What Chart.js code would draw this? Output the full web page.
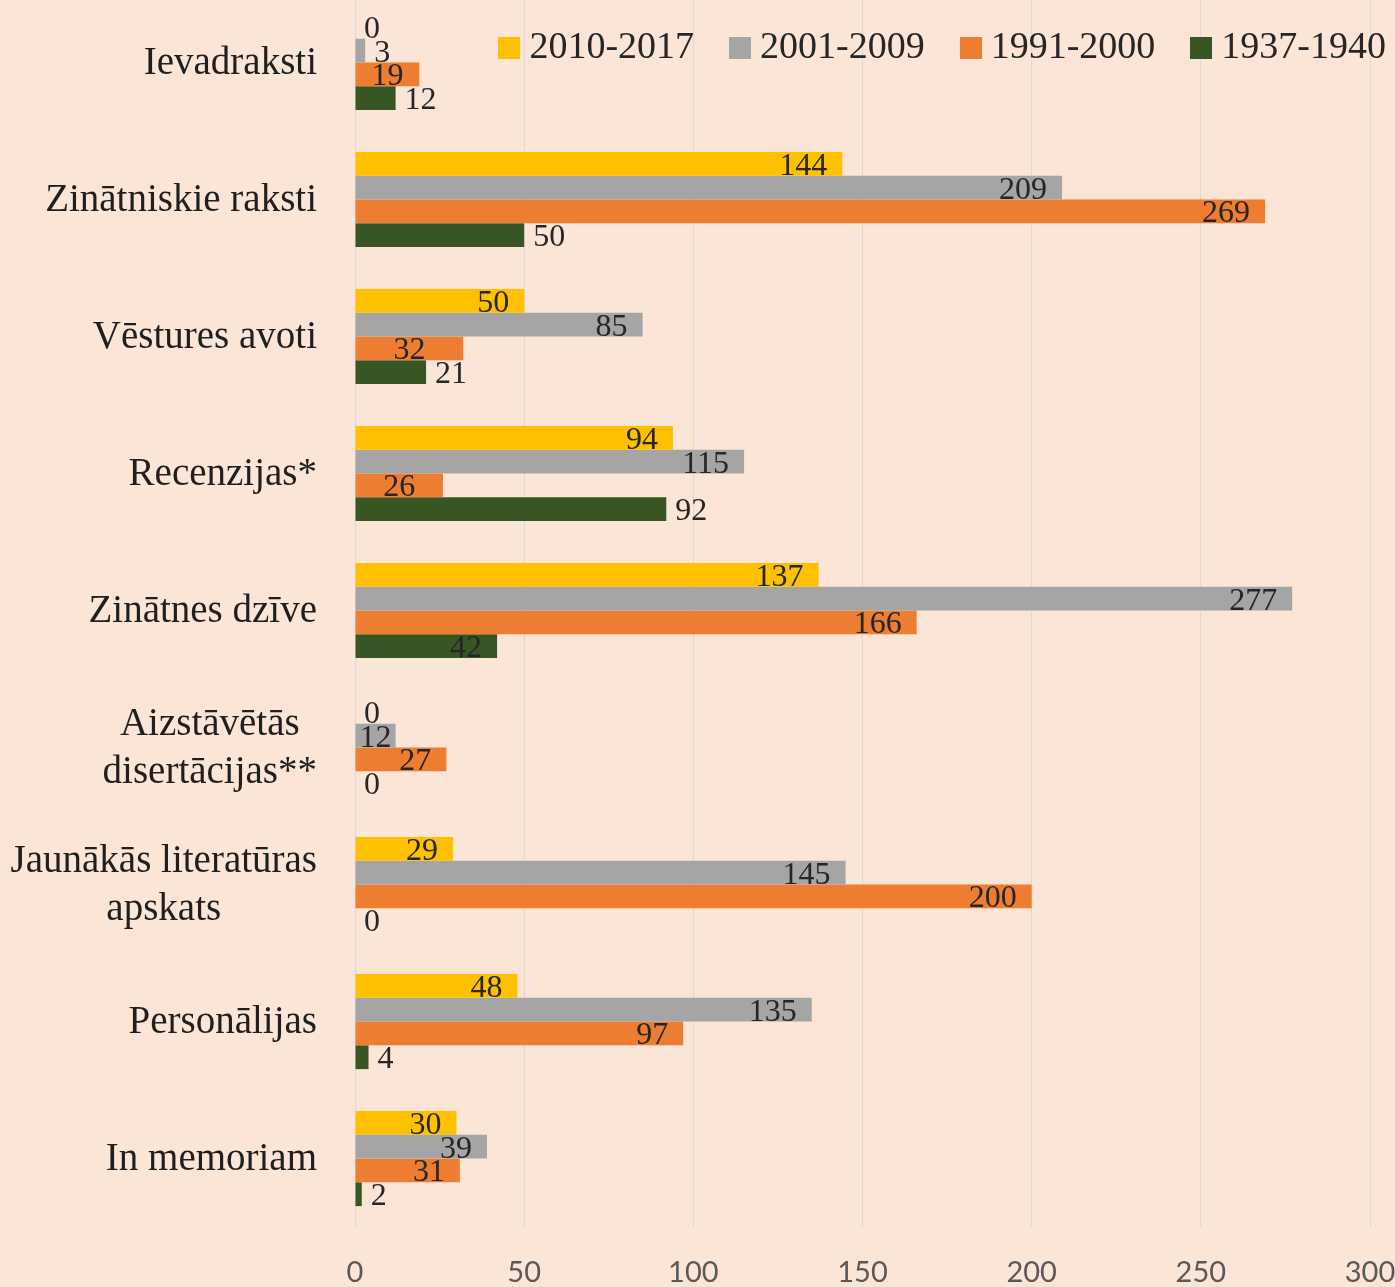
<!DOCTYPE html>
<html>
<head>
<meta charset="utf-8">
<script src="https://cdn.jsdelivr.net/npm/chart.js@4/dist/chart.umd.min.js"></script>
<style>
  html, body { margin:0; padding:0; background:#FBE5D6; }
  #wrap { position:relative; width:1395px; height:1287px; overflow:hidden; background:#FBE5D6; }
  #c { position:absolute; left:0; top:-6px; }
  #legend { position:absolute; top:26px; right:9px; display:flex; gap:35px;
            font-family:"Liberation Serif", serif; font-size:38px; line-height:38px; color:#262626; }
  #legend .item { display:flex; align-items:center; white-space:nowrap; }
  #legend .box { display:inline-block; width:22px; height:22px; margin-right:9px; position:relative; top:3px; }
</style>
</head>
<body>
<div id="wrap">
  <canvas id="c" width="1395" height="1293"></canvas>
  <div id="legend"></div>
</div>
<script>
const categories = [
  ["Ievadraksti"],
  ["Zinātniskie raksti"],
  ["Vēstures avoti"],
  ["Recenzijas*"],
  ["Zinātnes dzīve"],
  ["Aizstāvētās", "disertācijas**"],
  ["Jaunākās literatūras", "apskats"],
  ["Personālijas"],
  ["In memoriam"]
];
const seriesNames = ["2010-2017", "2001-2009", "1991-2000", "1937-1940"];
const s2010_2017 = [0, 144, 50, 94, 137, 0, 29, 48, 30];
const s2001_2009 = [3, 209, 85, 115, 277, 12, 145, 135, 39];
const s1991_2000 = [19, 269, 32, 26, 166, 27, 200, 97, 31];
const s1937_1940 = [12, 50, 21, 92, 42, 0, 0, 4, 2];
const xTicks = [0, 50, 100, 150, 200, 250, 300];

const seriesColors = ["#FFC000", "#A5A5A5", "#ED7D31", "#375623"];
// label placement style per series (in = inside end, out = outside end, center)
const labelModes = [
  ["out","in","in","in","in","out","in","in","in"],
  ["out","in","in","in","in","center","in","in","in"],
  ["center","in","center","center","in","in","in","in","in"],
  ["out","out","out","out","in","out","out","out","out"]
];

const seriesData = [s2010_2017, s2001_2009, s1991_2000, s1937_1940];

// HTML legend
const legendEl = document.getElementById('legend');
seriesNames.forEach((n, i) => {
  const item = document.createElement('div');
  item.className = 'item';
  const box = document.createElement('span');
  box.className = 'box';
  box.style.background = seriesColors[i];
  item.appendChild(box);
  item.appendChild(document.createTextNode(n));
  legendEl.appendChild(item);
});

const labelPlugin = {
  id: 'customLabels',
  afterDatasetsDraw(chart) {
    const ctx = chart.ctx;
    ctx.save();
    ctx.font = '32px "Liberation Serif"';
    ctx.fillStyle = '#262626';
    ctx.textBaseline = 'alphabetic';
    chart.data.datasets.forEach((ds, di) => {
      const meta = chart.getDatasetMeta(di);
      meta.data.forEach((bar, i) => {
        const mode = labelModes[di][i];
        let x;
        if (mode === 'in') { ctx.textAlign = 'right'; x = bar.x - 15; }
        else if (mode === 'center') { ctx.textAlign = 'center'; x = (bar.x + bar.base) / 2; }
        else { ctx.textAlign = 'left'; x = bar.x + 9; }
        ctx.fillText(String(ds.data[i]), x, bar.y + 11);
      });
    });
    // category labels
    const yScale = chart.scales.y;
    const labelRight = chart.chartArea.left - 38;
    ctx.font = '39px "Liberation Serif"';
    ctx.fillStyle = '#1F1F1F';
    ctx.textBaseline = 'middle';
    ctx.textAlign = 'center';
    categories.forEach((lines, i) => {
      const cy = yScale.getPixelForTick(i);
      const w = Math.max(...lines.map(l => ctx.measureText(l).width));
      const cx = labelRight - w / 2;
      lines.forEach((l, j) => ctx.fillText(l, cx, cy + 1 + (j - (lines.length - 1) / 2) * 48));
    });
    ctx.restore();
  }
};

new Chart(document.getElementById('c'), {
  type: 'bar',
  data: {
    labels: categories,
    datasets: seriesNames.map((n, i) => ({
      label: n,
      data: seriesData[i],
      backgroundColor: seriesColors[i],
      borderWidth: 0,
      categoryPercentage: 0.695,
      barPercentage: 1.0
    }))
  },
  options: {
    indexAxis: 'y',
    responsive: false,
    animation: false,
    devicePixelRatio: 1,
    layout: { padding: { left: 0, right: 25, top: 0, bottom: 0 } },
    plugins: { legend: { display: false }, tooltip: { enabled: false } },
    scales: {
      y: {
        ticks: { display: false },
        grid: { display: false },
        border: { display: false },
        afterFit(s) { s.width = 355; }
      },
      x: {
        min: 0, max: 300,
        afterBuildTicks(s) { s.ticks = xTicks.map(v => ({ value: v })); },
        ticks: { font: { family: 'Lato', size: 29 }, color: '#595959', padding: 28 },
        grid: { color: '#D9D9D9', lineWidth: 1, drawTicks: false },
        border: { display: false },
        afterFit(s) { s.height = 60; s.paddingRight = 0; s.paddingLeft = 0; }
      }
    }
  },
  plugins: [labelPlugin]
});
</script>
</body>
</html>
